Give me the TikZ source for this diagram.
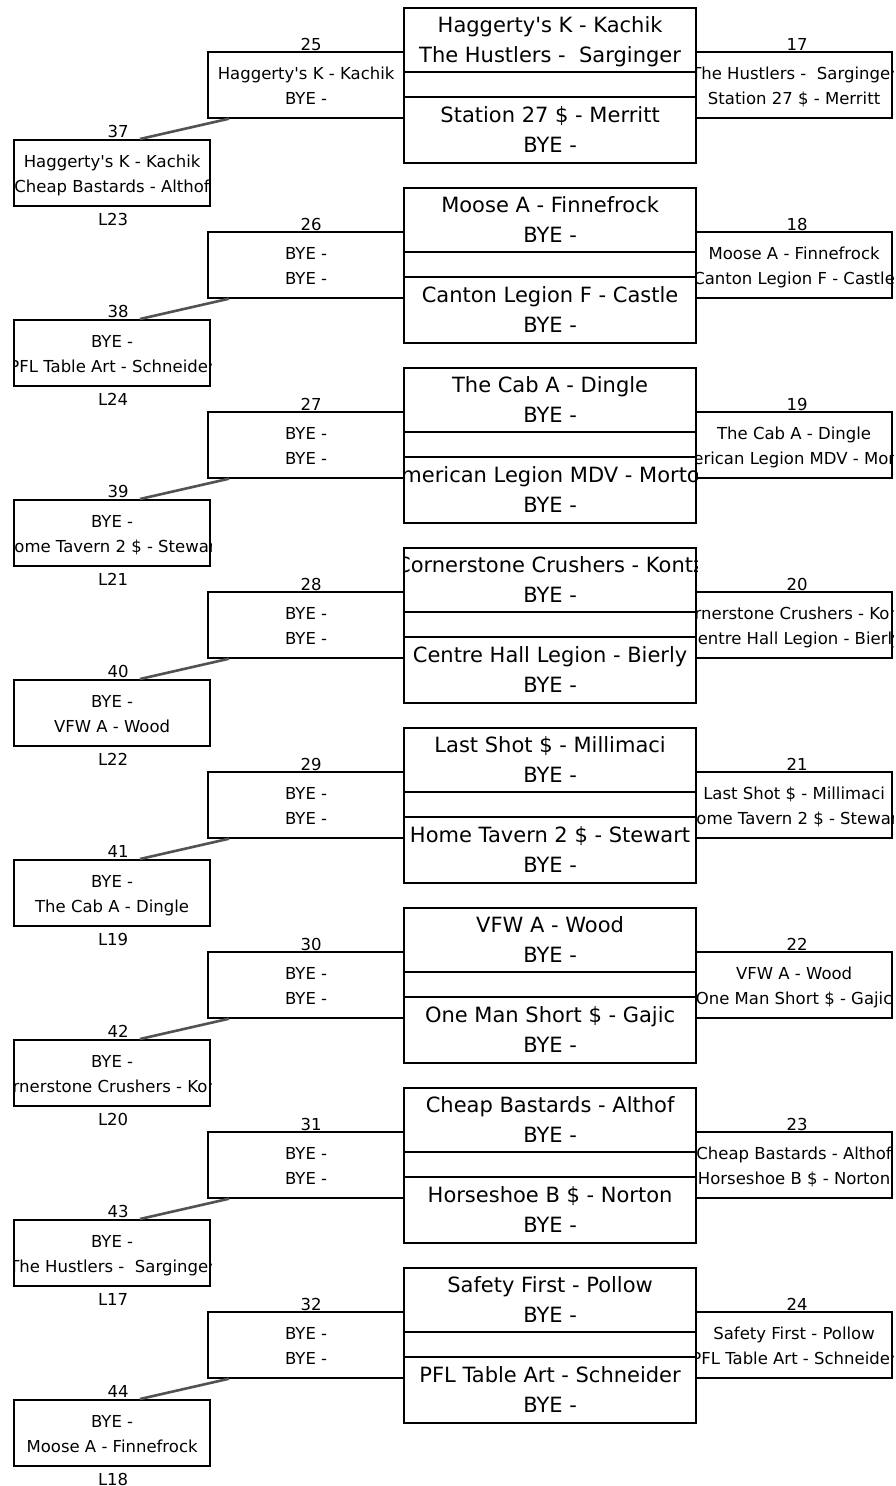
\documentclass[tikz,border=0pt]{standalone}
\usepackage{fontspec}
\setmainfont{DejaVu Sans}[Ligatures=TeXOff]
\usetikzlibrary{calc}
\tikzset{
  frame/.style={draw=black, line width=2.2pt},
  bigtxt/.style={font=\fontsize{21}{25}\selectfont, inner sep=0pt, anchor=base},
  smtxt/.style={font=\fontsize{16.5}{20}\selectfont, inner sep=0pt, anchor=base},
  conn/.style={draw=black!68, line width=2.6pt},
  boxnode/.style={frame, inner sep=0pt, anchor=north west, minimum width=196pt, minimum height=65.5pt},
  bignode/.style={frame, inner sep=0pt, anchor=north west, minimum width=292pt, minimum height=155pt},
}
\newcommand\apos{\char"0027\relax}
\newcommand\mybox[5]{% name, x, top y, line1, line2
  \node[boxnode] (#1) at (#2,#3) {};
  \begin{scope}
    \clip (#1.south west) rectangle (#1.north east);
    \node[smtxt] (#1-a) at ($(#1.north)+(0,28.5)$) {#4};
    \node[smtxt] (#1-b) at ($(#1.north)+(0,53.5)$) {#5};
  \end{scope}}
\newcommand\blockA[8]{% k, ctop1, ctop2, cbot1, cbot2, right1, right2, rightnum
  \pgfmathsetmacro\dy{180*#1}
  \mybox{R#1}{695}{51+\dy}{#6}{#7}
  \node[smtxt] (R#1-n) at ($(R#1.north)+(3,-1)$) {#8};
  \node[bignode] (C#1) at (403,7+\dy) {};
  \draw[frame] ($(C#1.north west)+(0,65)$) -- ($(C#1.north east)+(0,65)$);
  \draw[frame] ($(C#1.north west)+(0,90)$) -- ($(C#1.north east)+(0,90)$);
  \begin{scope}
    \clip (C#1.south west) rectangle (C#1.north east);
    \node[bigtxt] (C#1-a) at ($(C#1.north)+(0,25)$) {#2};
    \node[bigtxt] (C#1-b) at ($(C#1.north)+(0,55)$) {#3};
    \node[bigtxt] (C#1-c) at ($(C#1.north)+(0,115)$) {#4};
    \node[bigtxt] (C#1-d) at ($(C#1.north)+(0,145)$) {#5};
  \end{scope}}
\newcommand\blockB[8]{% k, left1, left2, leftnum, bl1, bl2, blnum, Llabel
  \pgfmathsetmacro\dy{180*#1}
  \mybox{L#1}{207}{51+\dy}{#2}{#3}
  \node[smtxt] (L#1-n) at ($(L#1.north)+(5,-1)$) {#4};
  \mybox{B#1}{13}{139+\dy}{#5}{#6}
  \node[smtxt] (B#1-n) at ($(B#1.north)+(6,-2)$) {#7};
  \node[smtxt] (B#1-l) at ($(B#1.south)+(1,19)$) {#8};
  \draw[conn] ($(L#1.south west)+(22,0)$) -- ($(B#1.north west)+(127,0)$);}
\begin{document}
\begin{tikzpicture}[x=1pt,y=-1pt]
\useasboundingbox[fill=white] (0,0) rectangle (895,1486);
% block 1
\blockB{0}{Haggerty\apos s K - Kachik}{BYE -}{25}{Haggerty\apos s K - Kachik}{Cheap Bastards - Althof}{37}{L23}
\blockA{0}{Haggerty\apos s K - Kachik}{The Hustlers -\ \ Sarginger}{Station 27 \$ - Merritt}{BYE -}{The Hustlers -\ \ Sarginger}{Station 27 \$ - Merritt}{17}
% block 2
\blockB{1}{BYE -}{BYE -}{26}{BYE -}{PFL Table Art - Schneider}{38}{L24}
\blockA{1}{Moose A - Finnefrock}{BYE -}{Canton Legion F - Castle}{BYE -}{Moose A - Finnefrock}{Canton Legion F - Castle}{18}
% block 3
\blockB{2}{BYE -}{BYE -}{27}{BYE -}{Home Tavern 2 \$ - Stewart}{39}{L21}
\blockA{2}{The Cab A - Dingle}{BYE -}{American Legion MDV - Morton}{BYE -}{The Cab A - Dingle}{American Legion MDV - Morton}{19}
% block 4
\blockB{3}{BYE -}{BYE -}{28}{BYE -}{VFW A - Wood}{40}{L22}
\blockA{3}{Cornerstone Crushers - Kontz}{BYE -}{Centre Hall Legion - Bierly}{BYE -}{Cornerstone Crushers - Kontz}{Centre Hall Legion - Bierly}{20}
% block 5
\blockB{4}{BYE -}{BYE -}{29}{BYE -}{The Cab A - Dingle}{41}{L19}
\blockA{4}{Last Shot \$ - Millimaci}{BYE -}{Home Tavern 2 \$ - Stewart}{BYE -}{Last Shot \$ - Millimaci}{Home Tavern 2 \$ - Stewart}{21}
% block 6
\blockB{5}{BYE -}{BYE -}{30}{BYE -}{Cornerstone Crushers - Kontz}{42}{L20}
\blockA{5}{VFW A - Wood}{BYE -}{One Man Short \$ - Gajic}{BYE -}{VFW A - Wood}{One Man Short \$ - Gajic}{22}
% block 7
\blockB{6}{BYE -}{BYE -}{31}{BYE -}{The Hustlers -\ \ Sarginger}{43}{L17}
\blockA{6}{Cheap Bastards - Althof}{BYE -}{Horseshoe B \$ - Norton}{BYE -}{Cheap Bastards - Althof}{Horseshoe B \$ - Norton}{23}
% block 8
\blockB{7}{BYE -}{BYE -}{32}{BYE -}{Moose A - Finnefrock}{44}{L18}
\blockA{7}{Safety First - Pollow}{BYE -}{PFL Table Art - Schneider}{BYE -}{Safety First - Pollow}{PFL Table Art - Schneider}{24}
\end{tikzpicture}
\end{document}
